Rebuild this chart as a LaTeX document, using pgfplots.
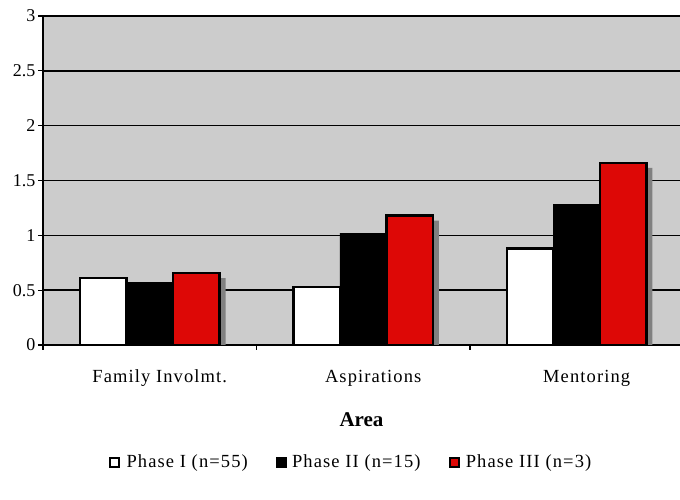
\documentclass[border=0pt]{standalone}
\usepackage{pgfplots}
\pgfplotsset{compat=1.18}
\usepackage{fontspec}
\setmainfont{Liberation Serif}
\newfontfamily\spaced{Liberation Serif}[LetterSpace=6]
\definecolor{bggray}{RGB}{204,204,204}
\definecolor{barred}{RGB}{221,8,6}
\definecolor{shadowgray}{RGB}{128,128,128}
\begin{document}
\begin{tikzpicture}[x=1pt,y=1pt]
\useasboundingbox (0,0) rectangle (680,500);
\begin{axis}[
  at={(43pt,155pt)}, anchor=south west,
  scale only axis, width=637pt, height=329pt,
  xmin=-0.5, xmax=2.484, ymin=0, ymax=3,
  axis lines*=left,
  axis line style={black, line width=1.5pt},
  axis background/.style={fill=bggray},
  ytick={0,0.5,1,1.5,2,2.5,3},
  yticklabels={0,0.5,1,1.5,2,2.5,3},
  yticklabel style={font=\fontsize{18}{20}\selectfont, xshift=1pt},
  ymajorgrids,
  major grid style={black, line width=1.5pt},
  tick align=outside,
  major tick length=5pt,
  tick style={black, line width=1.3pt},
  xtick={-0.5,0.5,1.5},
  xticklabels={},
  extra x ticks={0,1,2},
  extra x tick labels={Family Involmt.,Aspirations,Mentoring},
  extra x tick style={major tick length=0pt, xticklabel style={font=\spaced\fontsize{18.5}{20}\selectfont, anchor=base, yshift=-38pt, xshift=10pt}},
  xlabel={\textbf{Area}},
  xlabel style={font=\fontsize{21}{24}\selectfont, at={(axis description cs:0.5,-0.228)}, anchor=center},
  legend columns=3,
  legend style={at={(0.484,-0.356)}, anchor=center, draw=none, fill=none,
    font=\spaced\fontsize{18.5}{20}\selectfont,
    /tikz/every even column/.append style={column sep=26pt}},
  legend image code/.code={\draw[#1,line width=2pt] (0pt,-4.5pt) rectangle (9pt,4.5pt); \path (13pt,0pt);},
]
\addplot[ybar, bar width=0.218, bar shift=0.246, fill=shadowgray, draw=none, forget plot]
  coordinates {(0,0.61) (1,1.135) (2,1.615)};
\addplot[ybar, bar width=0.218, bar shift=-0.218, fill=white, draw=black, line width=2.4pt]
  coordinates {(0,0.61) (1,0.53) (2,0.88)};
\addlegendentry{Phase I (n=55)}
\addplot[ybar, bar width=0.218, bar shift=0, fill=black, draw=black, line width=0.5pt]
  coordinates {(0,0.57) (1,1.02) (2,1.28)};
\addlegendentry{Phase II (n=15)}
\addplot[ybar, bar width=0.218, bar shift=0.218, fill=barred, draw=black, line width=2.4pt]
  coordinates {(0,0.655) (1,1.18) (2,1.66)};
\addlegendentry{Phase III (n=3)}
\end{axis}
\end{tikzpicture}
\end{document}
